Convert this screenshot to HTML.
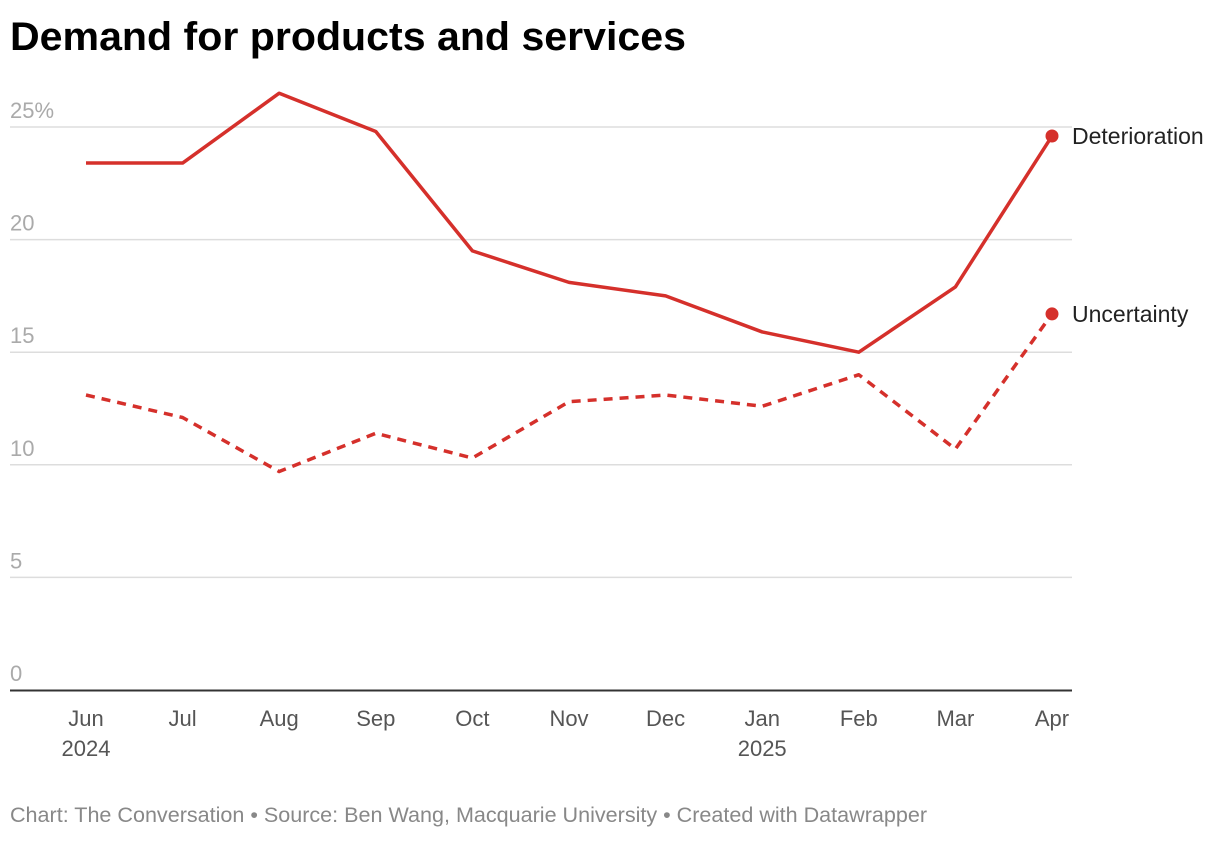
<!DOCTYPE html>
<html><head><meta charset="utf-8"><style>
body{margin:0;background:#fff;width:1220px;height:838px;overflow:hidden;font-family:"Liberation Sans",sans-serif}
</style></head><body>
<svg width="1220" height="838">
<text x="10" y="50" font-size="40" font-weight="bold" fill="#000" textLength="676" lengthAdjust="spacingAndGlyphs">Demand for products and services</text>
<g id="grid"></g><g id="xaxis"></g><g id="lines"></g>
<text x="10" y="822" font-size="21" fill="#888" textLength="917" lengthAdjust="spacingAndGlyphs">Chart: The Conversation • Source: Ben Wang, Macquarie University • Created with Datawrapper</text>
</svg>
<script>
const months=["Jun","Jul","Aug","Sep","Oct","Nov","Dec","Jan","Feb","Mar","Apr"];
const years=["2024","","","","","","","2025","","",""];
const deterioration=[23.4,23.4,26.5,24.8,19.5,18.1,17.5,15.9,15.0,17.9,24.6];
const uncertainty=[13.1,12.1,9.7,11.4,10.3,12.8,13.1,12.6,14.0,10.7,16.7];
const yTicks=[0,5,10,15,20,25];
const yTickLabels=["0","5","10","15","20","25%"];
const NS="http://www.w3.org/2000/svg";
const x=i=>86+i*(1052-86)/(months.length-1);
const y=v=>690-v*22.52;
function mk(t,a,p){const e=document.createElementNS(NS,t);for(const k in a)e.setAttribute(k,a[k]);p.appendChild(e);return e;}
const grid=document.getElementById('grid');
yTicks.forEach((t,i)=>{
 if(t>0){const l=mk('line',{x1:10,x2:1072,y1:y(t),y2:y(t),stroke:'#ddd','stroke-width':1.5},grid);
 
 }
 const tx=mk('text',{x:10,y:y(t)-9,'font-size':22,fill:'#aaa'},grid);tx.textContent=yTickLabels[i];
 
 
});
const xa=document.getElementById('xaxis');
const base=mk('line',{x1:10,x2:1072,y1:690.5,y2:690.5,stroke:'#333','stroke-width':2},xa);


months.forEach((m,i)=>{
 const t=mk('text',{x:x(i),y:726,'font-size':22,fill:'#555','text-anchor':'middle'},xa);t.textContent=m;
 
 
 if(years[i]){const t2=mk('text',{x:x(i),y:756,'font-size':22,fill:'#555','text-anchor':'middle'},xa);t2.textContent=years[i];
 
 }
});
const lg=document.getElementById('lines');
function series(vals,dash,name,label){
 const p=mk('polyline',{points:vals.map((v,i)=>x(i)+','+y(v)).join(' '),fill:'none',stroke:'#d5302b','stroke-width':3.5,'stroke-linejoin':'round'},lg);
 if(dash)p.setAttribute('stroke-dasharray','9,7');
 
 
 const n=vals.length-1;
 const c=mk('circle',{cx:x(n),cy:y(vals[n]),r:6.5,fill:'#d5302b'},lg);
 
 
 const t=mk('text',{x:1072,y:y(vals[n])+8,'font-size':23,fill:'#222'},lg);t.textContent=label;
 
 
}
series(deterioration,false,'deterioration','Deterioration');
series(uncertainty,true,'uncertainty','Uncertainty');
</script>
</body></html>
